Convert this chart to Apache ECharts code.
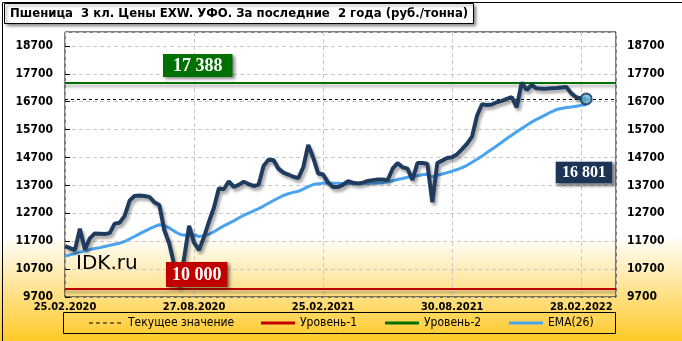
<!DOCTYPE html>
<html>
<head>
<meta charset="utf-8">
<script src="https://cdn.jsdelivr.net/npm/echarts@6/dist/echarts.min.js"></script>
<style>html,body{margin:0;padding:0;background:#fff}#c{width:682px;height:341px}</style>
</head>
<body>
<div id="c"></div>
<script>
// ---- data ----
const tickLabels = ['25.02.2020', '27.08.2020', '25.02.2021', '30.08.2021', '28.02.2022'];
const weeksPerTick = 26;
const xMaxWeeks = 111;
const prices = [
  11520, 11450, 11380, 12150, 11400, 11800, 11980, 11970, 11960, 11990,
  12330, 12360, 12600, 13150, 13320, 13340, 13320, 13290, 13100, 13000,
  12100, 11620, 10850, 10060, 11100, 12250, 11650, 11380, 11850, 12400,
  12900, 13600, 13560, 13850, 13650, 13720, 13830, 13750, 13680, 13720,
  14400, 14620, 14610, 14300, 14160, 14090, 14010, 13960, 14350, 15150,
  14700, 14130, 14090, 13800, 13640, 13640, 13720, 13850, 13800, 13770,
  13800, 13860, 13890, 13910, 13910, 13890, 14300, 14500, 14350, 14300,
  13900, 14500, 14500, 14480, 13100, 14500, 14590, 14680, 14710, 14820,
  15000, 15200, 15450, 16200, 16610, 16580, 16600, 16680, 16730, 16800,
  16870, 16500, 17390, 17120, 17300, 17180, 17170, 17170, 17180, 17190,
  17210, 17230, 17000, 16860, 16810, 16801
];
const ema = [
  11160, 11210, 11260, 11310, 11350, 11400, 11440, 11470, 11510, 11550,
  11590, 11630, 11690, 11780, 11870, 11960, 12050, 12140, 12220, 12290,
  12260, 12180, 12060, 11960, 11910, 11940, 11930, 11870, 11900, 11950,
  12040, 12150, 12250, 12340, 12430, 12530, 12630, 12710, 12790, 12870,
  12960, 13060, 13160, 13250, 13340, 13400, 13450, 13490, 13570, 13660,
  13730, 13760, 13780, 13790, 13780, 13780, 13770, 13770, 13770, 13770,
  13770, 13780, 13780, 13790, 13800, 13830, 13870, 13910, 13950, 13990,
  14020, 14050, 14080, 14100, 14010, 14060, 14110, 14160, 14210, 14270,
  14340, 14420, 14530, 14640, 14750, 14880, 15000, 15120, 15250, 15380,
  15500, 15620, 15740, 15860, 15970, 16070, 16160, 16250, 16340, 16420,
  16460, 16490, 16510, 16540, 16570, 16590
];
const level1 = 10000;
const level2 = 17388;
const yMin = 9700, yMax = 19200, yStep = 1000;
const titleText = 'Пшеница  3 кл. Цены EXW. УФО. За последние  2 года (руб./тонна)';
const legendNames = ['Текущее значение', 'Уровень-1', 'Уровень-2', 'EMA(26)'];

// ---- helpers ----
const currentValue = prices[prices.length - 1];
const lastIndex = prices.length - 1;
function fmt(v) { return String(Math.round(v)).replace(/\B(?=(\d{3})+(?!\d))/g, ' '); }

const C_MAIN = '#1f3b5e', C_EMA = '#4aa3f0', C_RED = '#c00000', C_GREEN = '#007000';
const FONT = '"DejaVu Sans Condensed", "DejaVu Sans", sans-serif';

const chart = echarts.init(document.getElementById('c'), null, {renderer: 'canvas'});

const levelSeries = (name, value, color, width, type, shadow) => ({
  name, type: 'line', data: [], symbol: 'none', silent: true,
  markLine: {
    silent: true, symbol: 'none', animation: false,
    label: {show: false},
    lineStyle: Object.assign({color, width, type}, shadow ? {shadowColor: 'rgba(0,0,0,0.35)', shadowBlur: 3, shadowOffsetY: 3} : {}),
    data: [{yAxis: value}]
  },
  z: 3
});

// legend drawn as graphic elements (line sample + real text)
const legendStyles = [
  {color: '#000', width: 1, dash: [4, 3]},
  {color: C_RED, width: 3, dash: null},
  {color: C_GREEN, width: 3, dash: null},
  {color: C_EMA, width: 3, dash: null}
];
const legendX = [89, 261, 385, 509];
const legendY = 323;
const legendGraphics = [];
legendNames.forEach((name, i) => {
  const s = legendStyles[i];
  legendGraphics.push({
    type: 'line', silent: true, z: 60,
    shape: {x1: legendX[i], y1: legendY, x2: legendX[i] + 34, y2: legendY},
    style: {stroke: s.color, lineWidth: s.width, lineDash: s.dash || null}
  });
  legendGraphics.push({
    type: 'text', silent: true, z: 60, x: legendX[i] + 39, y: legendY,
    style: {text: name, font: '12px ' + FONT, fill: '#000', verticalAlign: 'middle'}
  });
});

const option = {
  animation: false,
  backgroundColor: {
    type: 'linear', x: 0, y: 0, x2: 0, y2: 1,
    colorStops: [{offset: 0, color: '#ffffff'}, {offset: 0.69, color: '#ffffff'}, {offset: 1, color: '#ffc928'}]
  },
  title: {
    text: titleText, left: 4, top: 3,
    padding: [4, 6, 4, 6],
    backgroundColor: '#fff', borderColor: '#000', borderWidth: 1,
    shadowColor: 'rgba(0,0,0,0.45)', shadowBlur: 3, shadowOffsetX: 2, shadowOffsetY: 2,
    textStyle: {fontFamily: FONT, fontWeight: 'bold', fontSize: 13, color: '#000'}
  },
  grid: {left: 65, right: 66, top: 32, bottom: 44, show: true, borderColor: '#000', borderWidth: 1, backgroundColor: 'transparent', containLabel: false},
  xAxis: {
    type: 'value', min: 0, max: xMaxWeeks, interval: weeksPerTick,
    axisLine: {show: false}, axisTick: {show: false},
    axisLabel: {
      showMaxLabel: false, margin: 5,
      fontFamily: FONT, fontWeight: 'bold', fontSize: 11, color: '#000',
      formatter: v => (v % weeksPerTick === 0 && tickLabels[v / weeksPerTick]) ? tickLabels[v / weeksPerTick] : ''
    },
    splitLine: {show: true, lineStyle: {color: '#c8c8c8', type: [4, 3]}}
  },
  yAxis: [{
    type: 'value', min: yMin, max: yMax, interval: yStep, position: 'left',
    axisLine: {show: false},
    axisTick: {show: true, inside: true, length: 5, lineStyle: {color: '#000'}},
    axisLabel: {showMaxLabel: false, margin: 12, fontFamily: FONT, fontWeight: 'bold', fontSize: 12, color: '#000', formatter: v => String(v)},
    splitLine: {show: true, lineStyle: {color: '#c8c8c8', type: [4, 3]}}
  }, {
    type: 'value', min: yMin, max: yMax, interval: yStep, position: 'right',
    axisLine: {show: false}, axisTick: {show: false},
    axisLabel: {showMaxLabel: false, margin: 11, fontFamily: FONT, fontWeight: 'bold', fontSize: 12, color: '#000', formatter: v => String(v)},
    splitLine: {show: false}
  }],
  series: [
    levelSeries(legendNames[0], currentValue, '#000', 1, [3, 3], false),
    levelSeries(legendNames[1], level1, C_RED, 2, 'solid', true),
    levelSeries(legendNames[2], level2, C_GREEN, 2, 'solid', true),
    {
      name: legendNames[3], type: 'line', data: ema.map((v, i) => [i, v]),
      symbol: 'none', lineStyle: {color: C_EMA, width: 3}, itemStyle: {color: C_EMA}, z: 4
    },
    {
      name: 'price', type: 'line', data: prices.map((v, i) => [i, v]),
      symbol: 'none',
      lineStyle: {color: C_MAIN, width: 4, shadowColor: 'rgba(0,0,0,0.35)', shadowBlur: 3, shadowOffsetX: 2, shadowOffsetY: 3},
      itemStyle: {color: C_MAIN}, z: 5
    },
    {
      name: 'last', type: 'scatter', data: [[lastIndex, currentValue]],
      symbol: 'circle', symbolSize: 11,
      itemStyle: {color: '#5cb8d6', borderColor: '#14305a', borderWidth: 2}, z: 6
    }
  ],
  graphic: [
    {type: 'rect', left: 0, top: 0, z: 100, silent: true,
      shape: {x: 0, y: 0, width: 681, height: 340},
      style: {fill: 'none', stroke: '#000', lineWidth: 1}},
    {type: 'rect', z: 1, silent: true,
      shape: {x: 63.5, y: 312.5, width: 552, height: 21},
      style: {fill: 'none', stroke: '#000', lineWidth: 1}},
    {type: 'text', x: 76, y: 254, z: 50, silent: true,
      style: {text: 'IDK.ru', font: '20px "DejaVu Sans", sans-serif', fill: '#000'}},
    {type: 'text', x: 163, y: 54, z: 50, silent: true,
      style: {text: fmt(level2), font: 'bold 18px "Liberation Serif", serif', fill: '#fff',
        backgroundColor: C_GREEN, padding: [3, 10, 2, 10],
        shadowColor: 'rgba(0,0,0,0.45)', shadowBlur: 3, shadowOffsetX: 2, shadowOffsetY: 2}},
    {type: 'text', x: 166, y: 262, z: 50, silent: true,
      style: {text: fmt(level1), font: 'bold 18px "Liberation Serif", serif', fill: '#fff',
        backgroundColor: C_RED, padding: [4, 6, 3, 6],
        shadowColor: 'rgba(0,0,0,0.45)', shadowBlur: 3, shadowOffsetX: 2, shadowOffsetY: 2}},
    {type: 'text', x: 556, y: 162, z: 50, silent: true,
      style: {text: fmt(currentValue), font: 'bold 16px "Liberation Serif", serif', fill: '#fff',
        backgroundColor: '#1c3557', borderColor: '#b8c4d4', borderWidth: 1, padding: [3, 6, 2, 6],
        shadowColor: 'rgba(0,0,0,0.45)', shadowBlur: 3, shadowOffsetX: 2, shadowOffsetY: 2}}
  ].concat(legendGraphics)
};
chart.setOption(option);
</script>
</body>
</html>
